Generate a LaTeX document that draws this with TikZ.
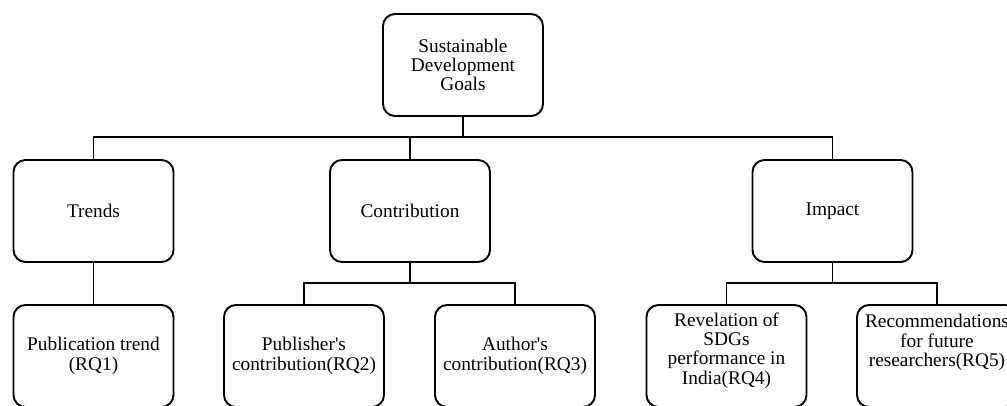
\documentclass[tikz,border=0pt]{standalone}
\usepackage{fontspec}
\setmainfont{Liberation Serif}
\usepackage{tikz}
\usetikzlibrary{positioning}

\begin{document}
\begin{tikzpicture}[
    block/.style={rectangle, draw, line width=1.1pt, rounded corners=0.24cm, align=center, inner sep=2pt,
        minimum width=3.2cm, minimum height=2.04cm, font=\fontsize{11}{11}\selectfont},
    link/.style={draw, line width=0.95pt}
]
    \useasboundingbox (0,0) rectangle (20.14,-8.12);

    \node[block] (sdg) at (9.26,-1.30) {Sustainable\\Development\\Goals};

    \node[block] (trends) at (1.87,-4.22) {Trends};
    \node[block] (contrib) at (8.20,-4.22) {Contribution};
    \node[block] (impact) at (16.65,-4.22) {Impact};

    \node[block] (pubtrend) at (1.87,-7.12) {Publication trend\\(RQ1)};
    \node[block] (publisher) at (6.08,-7.12) {Publisher\textquotesingle s\\contribution(RQ2)};
    \node[block] (author) at (10.30,-7.12) {Author\textquotesingle s\\contribution(RQ3)};
    \node[block, text depth=0.30cm] (revel) at (14.53,-7.12) {Revelation of\\SDGs\\performance in\\India(RQ4)};
    \node[block, text depth=0.62cm] (recom) at (18.74,-7.12) {Recommendations\\for future\\researchers(RQ5)};

    % connectors
    \coordinate[below=0.4cm of sdg.south] (bus);
    \coordinate[below=0.4cm of contrib.south] (cbus);
    \coordinate[below=0.4cm of impact.south] (ibus);

    \draw[link] (sdg.south) -- (bus) -| (trends.north);
    \draw[link] (bus) -| (contrib.north);
    \draw[link] (bus) -| (impact.north);
    \draw[link] (trends.south) -- (pubtrend.north);
    \draw[link] (contrib.south) -- (cbus) -| (publisher.north);
    \draw[link] (cbus) -| (author.north);
    \draw[link] (impact.south) -- (ibus) -| (revel.north);
    \draw[link] (ibus) -| (recom.north);
\end{tikzpicture}
\end{document}
